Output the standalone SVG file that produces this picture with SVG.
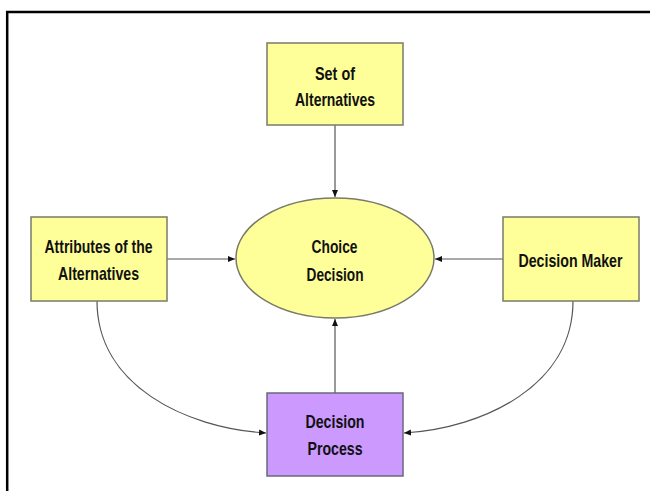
<svg xmlns="http://www.w3.org/2000/svg" width="650" height="491" viewBox="0 0 650 491">
<style>
.box{fill:#FFFF99;stroke:#7a7a6a;stroke-width:1.5}
.proc{fill:#CC99FF;stroke:#6a6a7a;stroke-width:1.5}
.t{font-family:"Liberation Sans",Arial,sans-serif;font-weight:bold;font-size:18.5px;fill:#111;text-anchor:middle}
.c{fill:none;stroke:#555;stroke-width:1.2}
</style>
<defs>
<marker id="ah" markerWidth="8" markerHeight="8" refX="7" refY="4" orient="auto" markerUnits="userSpaceOnUse">
<path d="M0,1 L7,4 L0,7 Z" fill="#111"/>
</marker>
</defs>
<rect x="0" y="0" width="650" height="491" fill="#fff"/>
<rect x="7.2" y="12" width="700" height="600" fill="none" stroke="#000" stroke-width="2.5"/>
<g id="connectors">
<path class="c" d="M335,125 L335,197" marker-end="url(#ah)"/>
<path class="c" d="M167,259 L235,259" marker-end="url(#ah)"/>
<path class="c" d="M503,259 L435,259" marker-end="url(#ah)"/>
<path class="c" d="M335,393 L335,319" marker-end="url(#ah)"/>
<path class="c" d="M97,301 C97,385 185,428 266,433" marker-end="url(#ah)"/>
<path class="c" d="M573,301 C573,385 485,428 404,433" marker-end="url(#ah)"/>
</g>
<g id="set">
<rect class="box" x="267" y="43" width="136" height="82"/>
<text class="t" x="335" y="80" textLength="40" lengthAdjust="spacingAndGlyphs">Set of</text>
<text class="t" x="335" y="106" textLength="80" lengthAdjust="spacingAndGlyphs">Alternatives</text>
</g>
<g id="attributes">
<rect class="box" x="31" y="217" width="136" height="84"/>
<text class="t" x="98.5" y="253" textLength="108" lengthAdjust="spacingAndGlyphs">Attributes of the</text>
<text class="t" x="98.5" y="280" textLength="81" lengthAdjust="spacingAndGlyphs">Alternatives</text>
</g>
<g id="maker">
<rect class="box" x="503" y="217" width="136" height="84"/>
<text class="t" x="570.5" y="267" textLength="104" lengthAdjust="spacingAndGlyphs">Decision Maker</text>
</g>
<g id="choice">
<ellipse class="box" cx="335" cy="258" rx="99" ry="60"/>
<text class="t" x="334.5" y="253" textLength="46" lengthAdjust="spacingAndGlyphs">Choice</text>
<text class="t" x="335" y="281" textLength="57" lengthAdjust="spacingAndGlyphs">Decision</text>
</g>
<g id="process">
<rect class="proc" x="267" y="393" width="136" height="83"/>
<text class="t" x="335" y="428" textLength="59" lengthAdjust="spacingAndGlyphs">Decision</text>
<text class="t" x="335" y="455" textLength="55" lengthAdjust="spacingAndGlyphs">Process</text>
</g>
</svg>
